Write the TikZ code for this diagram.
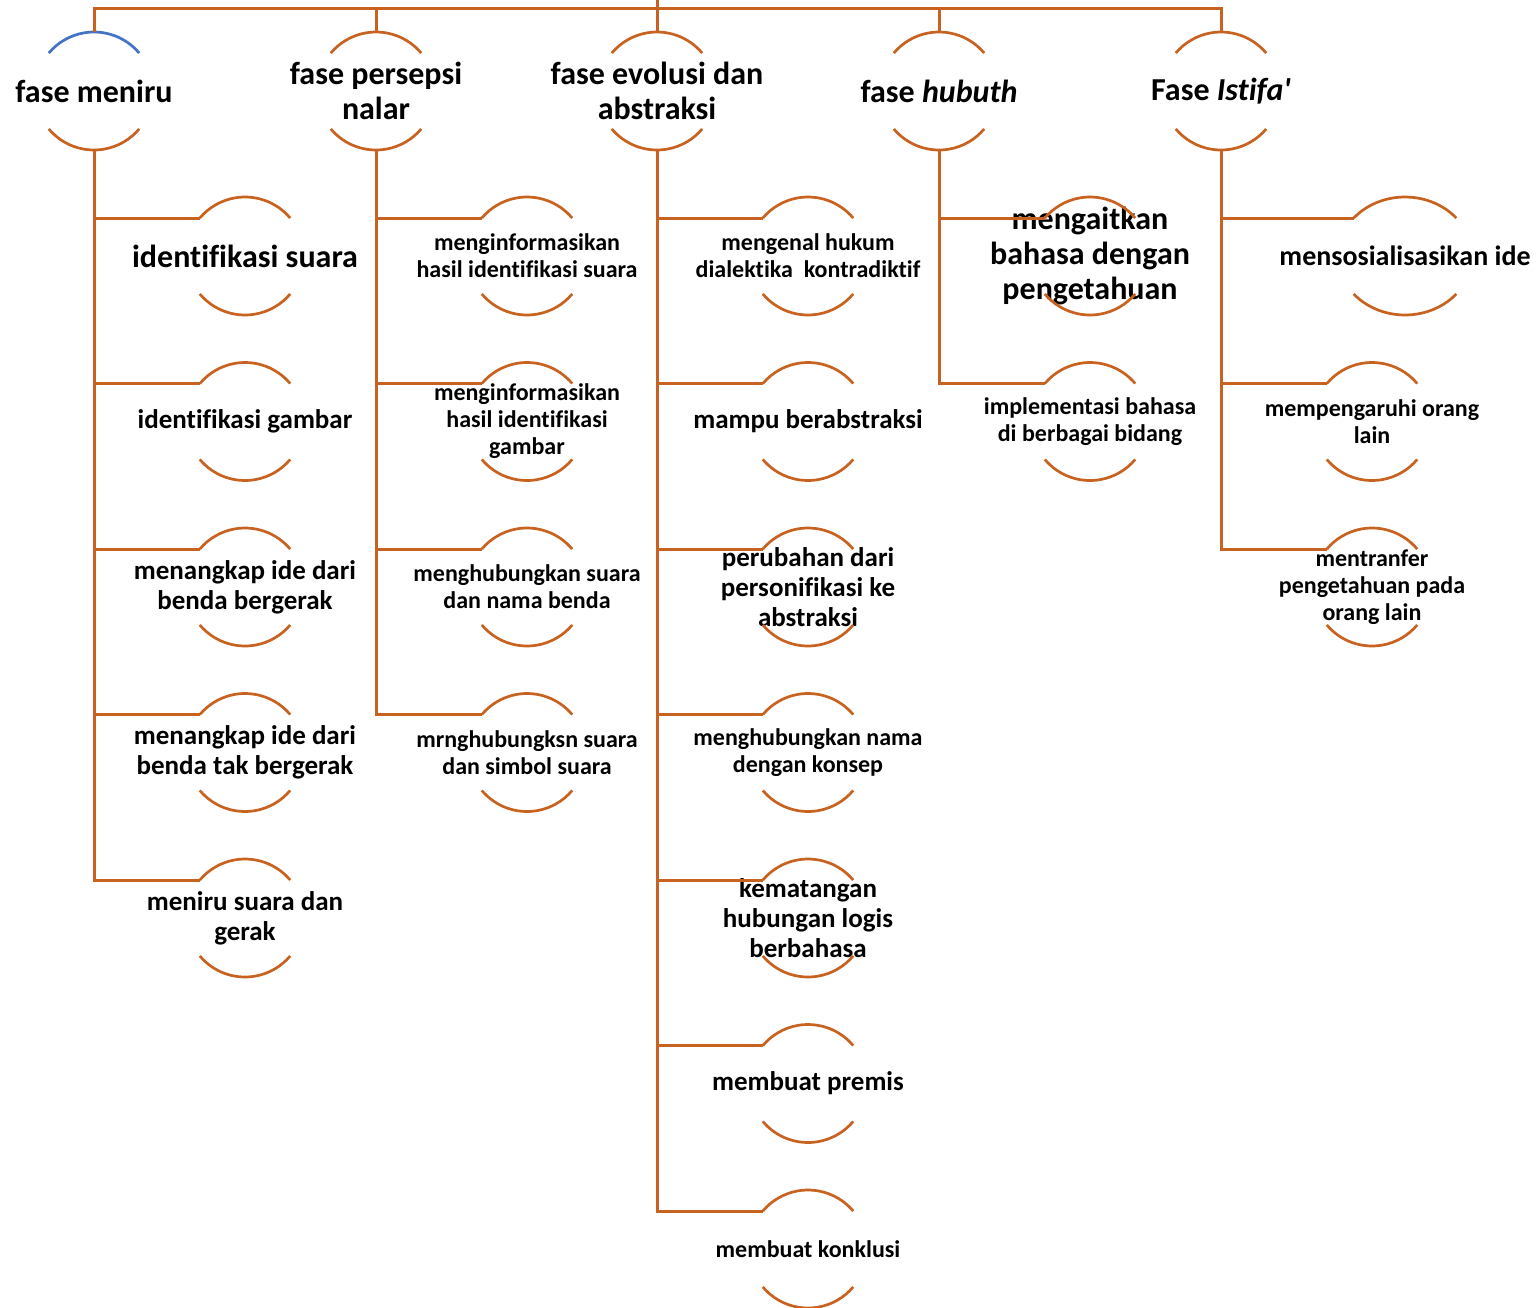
\documentclass[tikz,border=0pt]{standalone}
\usepackage{fontspec}
\setmainfont{Carlito}[Ligatures=NoCommon]
\definecolor{branch}{RGB}{200,98,32}
\definecolor{firstarc}{RGB}{68,114,196}
\tikzset{
  conn/.style={draw=branch, line width=3pt},
  arcline/.style={draw=branch, line width=2.7pt},
  bluearc/.style={draw=firstarc, line width=2.7pt},
  lbl/.style={align=center, inner sep=0pt, text=black},
  big/.style={lbl, font=\fontsize{32}{35}\selectfont\bfseries},
  mid/.style={lbl, font=\fontsize{27}{30}\selectfont\bfseries},
  small/.style={lbl, font=\fontsize{24}{27}\selectfont\bfseries},
}
% \bub[top arc style]{name}{x}{y}{x radius}{text style}{text}
% one bubble: a label between an upper and a lower arc of the same ellipse
\newcommand\bub[7][arcline]{%
  \coordinate (#2) at (#3,#4);
  \node[#6] (#2-t) at (#2) {#7};
  \draw[#1] ([shift={({#5*cos(40)},{59*sin(40)})}]#2)
      arc[start angle=40, end angle=140, x radius=#5, y radius=59];
  \draw[arcline] ([shift={({#5*cos(220)},{59*sin(220)})}]#2)
      arc[start angle=220, end angle=320, x radius=#5, y radius=59];
  \coordinate (#2-in) at ([shift={({#5*cos(140)},{59*sin(140)})}]#2);
  \coordinate (#2-top) at ([shift={(0,59)}]#2);
  \coordinate (#2-bot) at ([shift={(0,-59)}]#2);
}
\begin{document}
\begin{tikzpicture}[x=1pt, y=1pt]
\useasboundingbox (0,0) rectangle (1539,-1307);

% phases
\bub[bluearc]{p1}{94}{-91}{59}{big}{fase meniru}
\bub{p2}{376}{-91}{59}{big}{fase persepsi\\nalar}
\bub{p3}{657}{-91}{59}{big}{fase evolusi dan\\abstraksi}
\bub{p4}{939}{-91}{59}{big}{fase \textit{hubuth}}
\bub{p5}{1221}{-91}{59}{big}{Fase \textit{Istifa\textquotesingle}}

% steps of the first phase
\bub{a1}{245}{-256}{59}{big}{identifikasi suara}
\bub{a2}{245}{-421.5}{59}{mid}{identifikasi gambar}
\bub{a3}{245}{-587}{59}{mid}{menangkap ide dari\\benda bergerak}
\bub{a4}{245}{-752.5}{59}{mid}{menangkap ide dari\\benda tak bergerak}
\bub{a5}{245}{-918}{59}{mid}{meniru suara dan\\gerak}

% steps of the second phase
\bub{b1}{527}{-256}{59}{small}{menginformasikan\\hasil identifikasi suara}
\bub{b2}{527}{-421.5}{59}{small}{menginformasikan\\hasil identifikasi\\gambar}
\bub{b3}{527}{-587}{59}{small}{menghubungkan suara\\dan nama benda}
\bub{b4}{527}{-752.5}{59}{small}{mrnghubungksn suara\\dan simbol suara}

% steps of the third phase
\bub{c1}{808}{-256}{59}{small}{mengenal hukum\\dialektika\ \ kontradiktif}
\bub{c2}{808}{-421.5}{59}{mid}{mampu berabstraksi}
\bub{c3}{808}{-587}{59}{mid}{perubahan dari\\personifikasi ke\\abstraksi}
\bub{c4}{808}{-752.5}{59}{small}{menghubungkan nama\\dengan konsep}
\bub{c5}{808}{-918}{59}{mid}{kematangan\\hubungan logis\\berbahasa}
\bub{c6}{808}{-1083.5}{59}{mid}{membuat premis}
\bub{c7}{808}{-1249}{59}{small}{membuat konklusi}

% steps of the fourth phase
\bub{d1}{1090}{-256}{59}{big}{mengaitkan\\bahasa dengan\\pengetahuan}
\bub{d2}{1090}{-421.5}{59}{small}{implementasi bahasa\\di berbagai bidang}

% steps of the fifth phase
\bub{e1}{1405}{-256}{67}{lbl, font=\fontsize{28}{31}\selectfont\bfseries}{mensosialisasikan ide}
\bub{e2}{1372}{-421.5}{59}{small}{mempengaruhi orang\\lain}
\bub{e3}{1372}{-587}{59}{small}{mentranfer\\pengetahuan pada\\orang lain}

% root and top bar
\coordinate (root) at (657,0);
\coordinate (hub) at (657,-8);
\draw[conn] (root) -- (hub);
\foreach \p in {p1,p2,p3,p4,p5}
  \draw[conn] (\p-top) |- (hub);

% branches from each phase down to its steps
\foreach \s in {a1,a2,a3,a4,a5} \draw[conn] (p1-bot) |- (\s-in);
\foreach \s in {b1,b2,b3,b4} \draw[conn] (p2-bot) |- (\s-in);
\foreach \s in {c1,c2,c3,c4,c5,c6,c7} \draw[conn] (p3-bot) |- (\s-in);
\foreach \s in {d1,d2} \draw[conn] (p4-bot) |- (\s-in);
\foreach \s in {e1,e2,e3} \draw[conn] (p5-bot) |- (\s-in);
\end{tikzpicture}
\end{document}
